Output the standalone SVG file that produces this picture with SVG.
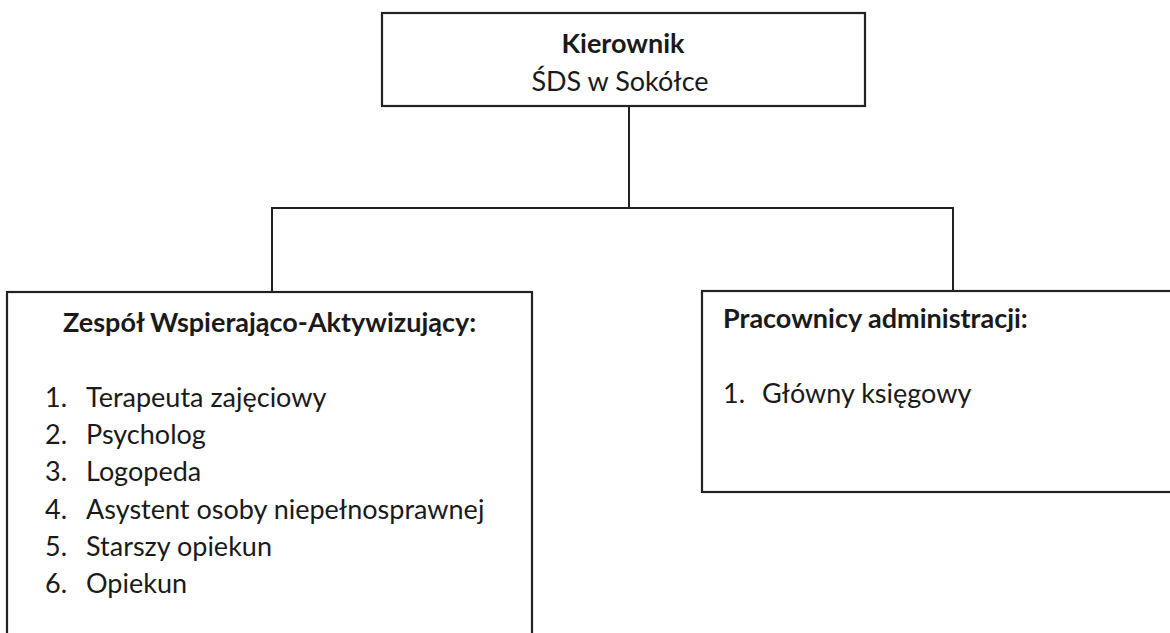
<svg xmlns="http://www.w3.org/2000/svg" width="1170" height="633" viewBox="0 0 1170 633">
<style>
.box{fill:#ffffff;stroke:#222222;stroke-width:2.2}
.conn{fill:none;stroke:#222222;stroke-width:2}
text{font-family:Lato,"Open Sans","Liberation Sans",sans-serif;fill:#1a1a1a}
.b{font-weight:bold}
.t{font-size:27px}
.h{font-size:27px}
.l{font-size:27px}
</style>
<rect width="1170" height="633" fill="#ffffff"/>
<g id="connectors">
<path class="conn" d="M629,106 V208"/>
<path class="conn" d="M271,208 H954"/>
<path class="conn" d="M272,208 V292"/>
<path class="conn" d="M953,208 V291"/>
</g>
<g id="kierownik">
<rect class="box" x="382" y="13" width="483" height="93"/>
<text class="t b" x="623" y="53" text-anchor="middle">Kierownik</text>
<text class="t" x="620" y="91" text-anchor="middle">ŚDS w Sokółce</text>
</g>
<g id="zespol">
<rect class="box" x="7" y="292" width="525" height="380"/>
<text class="h b" x="63" y="332">Zespół Wspierająco-Aktywizujący:</text>
<text class="l" x="45" y="407">1.</text><text class="l" x="86" y="407">Terapeuta zajęciowy</text>
<text class="l" x="45" y="444">2.</text><text class="l" x="86" y="444">Psycholog</text>
<text class="l" x="45" y="481">3.</text><text class="l" x="86" y="481">Logopeda</text>
<text class="l" x="45" y="519">4.</text><text class="l" x="86" y="519">Asystent osoby niepełnosprawnej</text>
<text class="l" x="45" y="556">5.</text><text class="l" x="86" y="556">Starszy opiekun</text>
<text class="l" x="45" y="593">6.</text><text class="l" x="86" y="593">Opiekun</text>
</g>
<g id="administracja">
<rect class="box" x="702" y="291" width="500" height="201"/>
<text class="h b" x="723" y="328">Pracownicy administracji:</text>
<text class="l" x="723" y="403">1.</text><text class="l" x="762" y="403">Główny księgowy</text>
</g>
</svg>
